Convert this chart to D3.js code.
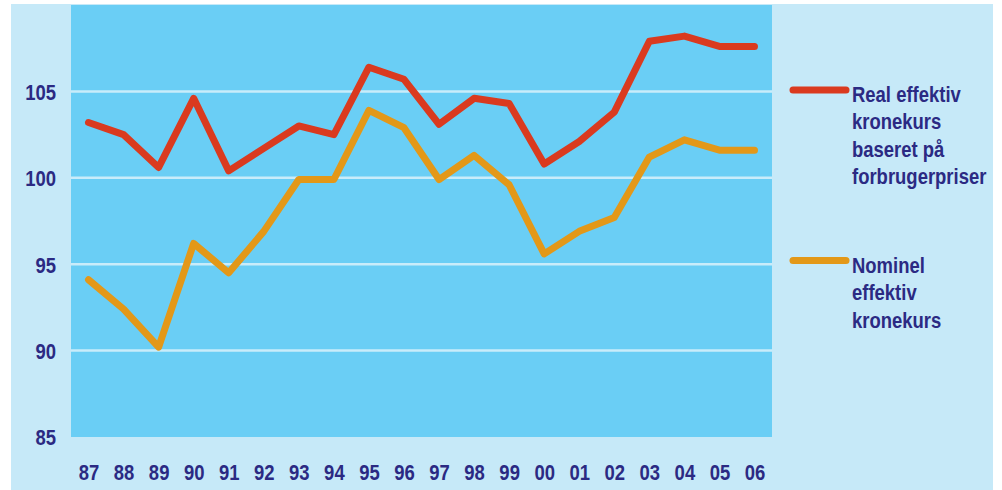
<!DOCTYPE html>
<html>
<head>
<meta charset="utf-8">
<script src="https://cdn.jsdelivr.net/npm/d3@7"></script>
<style>
  body { margin: 0; background: #fff; }
  svg text { font-family: "Liberation Sans", Arial, sans-serif; font-weight: bold; fill: #2b2a83; }
</style>
</head>
<body>
<div class="chart"></div>
<script>
// aar (x-akse)
const years = ['87','88','89','90','91','92','93','94','95','96','97','98','99','00','01','02','03','04','05','06'];
// real effektiv kronekurs, forbrugerpriser
const realKurs = [103.2, 102.5, 100.6, 104.6, 100.4, 101.7, 103.0, 102.5, 106.4, 105.7, 103.1, 104.6, 104.3, 100.8, 102.1, 103.8, 107.9, 108.2, 107.6, 107.6];
// nominel effektiv kronekurs
const nomKurs = [94.1, 92.4, 90.2, 96.2, 94.5, 96.9, 99.9, 99.9, 103.9, 102.9, 99.9, 101.3, 99.6, 95.6, 96.9, 97.7, 101.2, 102.2, 101.6, 101.6];
const yTicks = [85, 90, 95, 100, 105];
const legendReal = ['Real effektiv', 'kronekurs', 'baseret på', 'forbrugerpriser'];
const legendNom = ['Nominel', 'effektiv', 'kronekurs'];

const W = 1002, H = 490;
const plot = {left: 71, right: 772, top: 5, bottom: 437};
const narrow = 'scale(0.84,1)'; // smal skrift

const svg = d3.select('.chart').append('svg')
  .attr('width', W).attr('height', H);

// baggrund
svg.append('rect').attr('x', 11).attr('y', 4).attr('width', 982).attr('height', H - 4)
  .attr('fill', '#c6e9f8');
svg.append('rect').attr('x', plot.left).attr('y', plot.top)
  .attr('width', plot.right - plot.left).attr('height', plot.bottom - plot.top)
  .attr('fill', '#6acef5');

const x = d3.scalePoint().domain(years).range([plot.left, plot.right]).padding(0.5);
const y = d3.scaleLinear().domain([85, 110]).range([plot.bottom, plot.top]);

// gitterlinjer
svg.append('g').selectAll('line')
  .data(yTicks.filter(d => d > 85))
  .enter().append('line')
  .attr('x1', plot.left).attr('x2', plot.right)
  .attr('y1', d => y(d)).attr('y2', d => y(d))
  .attr('stroke', '#c9ecfa').attr('stroke-width', 2.5);

// y-akse
const yAxis = svg.append('g')
  .attr('transform', `translate(${plot.left - 15},0)`)
  .call(d3.axisLeft(y).tickValues(yTicks).tickSize(0).tickPadding(0));
yAxis.select('.domain').remove();
yAxis.selectAll('text').attr('font-size', 22).attr('dy', '0.36em').attr('fill', null)
  .attr('transform', narrow);

// x-akse
const xAxis = svg.append('g')
  .attr('transform', `translate(0,${plot.bottom + 35})`)
  .call(d3.axisBottom(x).tickSize(0).tickPadding(0));
xAxis.select('.domain').remove();
xAxis.selectAll('text').attr('font-size', 22).attr('dy', '0.36em').attr('fill', null)
  .attr('transform', narrow);

// linjer
const line = d3.line().x((d, i) => x(years[i])).y(d => y(d));

svg.append('path').datum(nomKurs)
  .attr('d', line).attr('fill', 'none')
  .attr('stroke', '#e39818').attr('stroke-width', 7)
  .attr('stroke-linejoin', 'round').attr('stroke-linecap', 'round');

svg.append('path').datum(realKurs)
  .attr('d', line).attr('fill', 'none')
  .attr('stroke', '#da3a1f').attr('stroke-width', 7)
  .attr('stroke-linejoin', 'round').attr('stroke-linecap', 'round');

// legende
function legend(lines, color, ly, ty) {
  svg.append('line').attr('x1', 793).attr('x2', 846)
    .attr('y1', ly).attr('y2', ly)
    .attr('stroke', color).attr('stroke-width', 7).attr('stroke-linecap', 'round');
  const t = svg.append('text').attr('font-size', 22)
    .attr('transform', `translate(852,${ty}) ${narrow}`);
  t.selectAll('tspan').data(lines).enter().append('tspan')
    .attr('x', 0).attr('dy', (d, i) => i == 0 ? 0 : 27.3)
    .text(d => d);
}
legend(legendReal, '#da3a1f', 90, 102);
legend(legendNom, '#e39818', 260.5, 273);
</script>
</body>
</html>
